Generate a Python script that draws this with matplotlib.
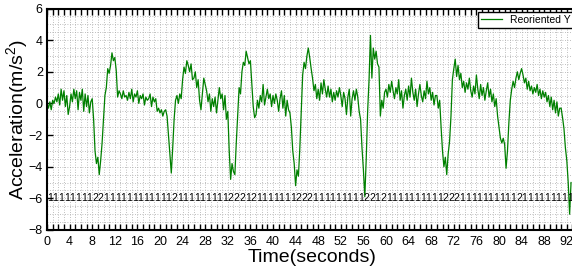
import numpy as np
import matplotlib
matplotlib.use("Agg")
import matplotlib.pyplot as plt
from matplotlib.ticker import MultipleLocator

plt.rcParams['font.family'] = ['Liberation Sans', 'DejaVu Sans']
plt.rcParams['mathtext.fontset'] = 'custom'
plt.rcParams['mathtext.rm'] = 'Liberation Sans'
plt.rcParams['mathtext.it'] = 'Liberation Sans'

# reoriented Y acceleration, 4 samples per second
acc_y = [
    0.0, -0.3, 0.1, -0.4,    0.2, 0.0, 0.4, 0.1,     0.6, -0.1, 0.9, 0.2,
    0.8, -0.2, 0.5, -0.7,    -0.2, 0.6, 0.1, 0.9,    0.3, 0.8, -0.4, 0.7,
    0.2, 0.9, -0.5, 0.6,     -0.2, 0.5, -0.6, 0.1,   0.3, -1.0, -3.0, -3.8,
    -3.4, -4.5, -3.6, -2.5,  -1.0, 0.5, 1.0, 2.2,    1.9, 2.4, 3.2, 2.7,
    2.9, 2.1, 0.4, 0.8,      0.6, 0.3, 0.8, 0.4,     0.5, 0.2, 0.7, 0.3,
    0.9, 0.1, 0.6, 0.4,      0.8, 0.0, 0.5, 0.3,     0.6, -0.1, 0.4, 0.2,
    0.3, 0.6, -0.2, 0.4,     0.1, 0.3, -0.5, -0.3,   -0.6, -0.4, -0.8, -0.5,
    -0.4, -0.8, -2.0, -3.2,  -4.4, -2.8, -1.0, 0.2,  0.5, 0.0, 0.6, 0.3,
    1.5, 2.3, 1.9, 2.7,      2.4, 2.0, 2.5, 1.5,     1.6, 2.0, 1.0, 1.5,
    0.2, -0.4, 0.6, 1.6,     1.2, 0.8, 0.1, 0.6,     -0.5, 0.3, -0.2, 0.4,
    -0.6, 0.2, 1.0, 0.3,     0.6, -0.4, 0.5, -1.0,   -0.5, -3.0, -4.8, -3.8,
    -4.3, -4.5, -2.5, -0.8,  1.0, 0.6, 2.0, 2.6,     2.4, 3.3, 2.9, 2.5,
    2.7, 1.2, -0.2, -0.9,    -0.7, 0.2, -0.3, 0.5,   0.1, 1.2, -0.1, 0.4,
    0.9, 0.3, 0.6, -0.2,     0.5, 0.0, 0.6, 0.2,     -0.5, 0.3, 0.8, -0.3,
    0.5, -0.8, 0.2, -0.4,    -0.6, -1.5, -3.0, -3.8, -5.2, -4.2, -4.6, -2.8,
    -0.5, 1.8, 2.6, 2.2,     3.0, 3.5, 2.9, 2.2,     1.6, 0.8, 1.2, 0.3,
    0.9, 0.2, 1.3, 0.6,      1.5, 0.9, 0.4, 1.1,     0.4, 0.9, 0.1, 0.7,
    0.2, 0.8, 0.4, 1.0,      0.5, -0.2, 0.7, 0.3,    -0.7, 0.4, 0.9, -0.8,
    0.3, 0.8, 0.2, 0.9,      0.4, -0.5, -1.0, -2.8,  -4.2, -5.9, -3.5, -0.5,
    1.5, 4.3, 1.6, 3.5,      2.8, 3.3, 2.5, 2.3,     -0.8, 0.2, -0.3, 0.7,
    0.9, 0.4, 1.2, 0.7,      1.4, 0.8, 0.3, 1.0,     0.6, 1.5, 0.2, 0.8,
    -0.3, 0.5, 0.9, 0.2,     1.1, 0.4, 1.6, 0.7,     0.2, 0.9, -0.2, 0.6,
    1.2, 0.5, 0.1, 0.8,      0.3, 1.4, 0.6, 1.0,     0.2, 0.7, -0.1, 0.5,
    0.5, -0.3, 0.2, -1.5,    -3.0, -4.0, -3.4, -4.5, -3.2, -2.4, -0.8, 1.5,
    2.2, 2.8, 1.7, 2.4,      1.5, 1.9, 1.0, 1.4,     0.7, 1.3, 0.9, 1.6,
    0.8, 0.4, 1.1, 0.6,      1.8, 0.9, 0.3, 1.2,     0.5, 1.0, 0.2, 0.8,
    1.3, 0.4, 0.9, 0.1,      0.6, -0.2, 0.3, -0.8,   -1.5, -2.2, -2.5, -2.2,
    -2.6, -4.1, -3.0, -1.2,  0.2, 0.9, 1.4, 1.0,     1.6, 2.0, 1.5, 1.9,
    2.2, 1.8, 1.3, 1.6,      0.9, 1.4, 0.8, 1.1,     0.6, 1.0, 0.7, 1.2,
    0.5, 0.9, 0.3, 0.8,      0.4, 0.7, 0.1, 0.5,     -0.2, 0.4, -0.4, 0.2,
    -0.6, 0.1, -0.8, -0.3,   -0.3, -0.9, -1.6, -2.8, -3.6, -5.0, -7.0, -5.0,
]
sample_rate = 4

# activity label for each second (1 = walking, 2 = turning)
activity = ("11111111221111111111112111111111222121111111222111111111"
            "2212111111111122211111111112111111111222")

t = np.arange(len(acc_y)) / sample_rate

fig = plt.figure(figsize=(5.72, 2.67), dpi=100)
ax = fig.add_axes([47 / 572, 1 - 230 / 267, 94 * 5.65 / 572, 221.5 / 267])

ax.plot(t, acc_y, color='#008000', lw=0.9, label='Reoriented Y')

for i, ch in enumerate(activity):
    ax.text(i, -6, ch, ha='left', va='center', fontsize=7.5, clip_on=True)

ax.set_xlim(0, 94)
ax.set_ylim(-8, 6)
ax.xaxis.set_major_locator(MultipleLocator(4))
ax.xaxis.set_minor_locator(MultipleLocator(1))
ax.yaxis.set_major_locator(MultipleLocator(2))
ax.yaxis.set_minor_locator(MultipleLocator(0.5))

dots = (0, (1, 2))
ax.grid(which='both', color='#aaaaaa', lw=0.6, linestyle=dots)
ax.set_axisbelow(True)

ax.tick_params(axis='x', which='both', direction='in', top=True, length=4,
               width=1, labelsize=9, pad=4)
ax.tick_params(axis='y', which='major', direction='in', length=4, width=1,
               labelsize=9, pad=3)
ax.tick_params(axis='y', which='minor', left=False)
for s in ax.spines.values():
    s.set_linewidth(1.5)

ax.set_xlabel('Time(seconds)', fontsize=14, labelpad=1)
ax.set_ylabel('Acceleration(m/s$^2$)', fontsize=14)
ax.yaxis.set_label_coords(-0.032, 0.5)

leg = ax.legend(loc='upper left', bbox_to_anchor=(478 / 572, 1 - 12 / 267),
                bbox_transform=fig.transFigure, borderaxespad=0,
                fancybox=False, framealpha=1, edgecolor='black',
                fontsize=7.5, handlelength=2.0, borderpad=0.3)
leg.get_frame().set_linewidth(1.0)

fig.savefig('out.png', dpi=100)
